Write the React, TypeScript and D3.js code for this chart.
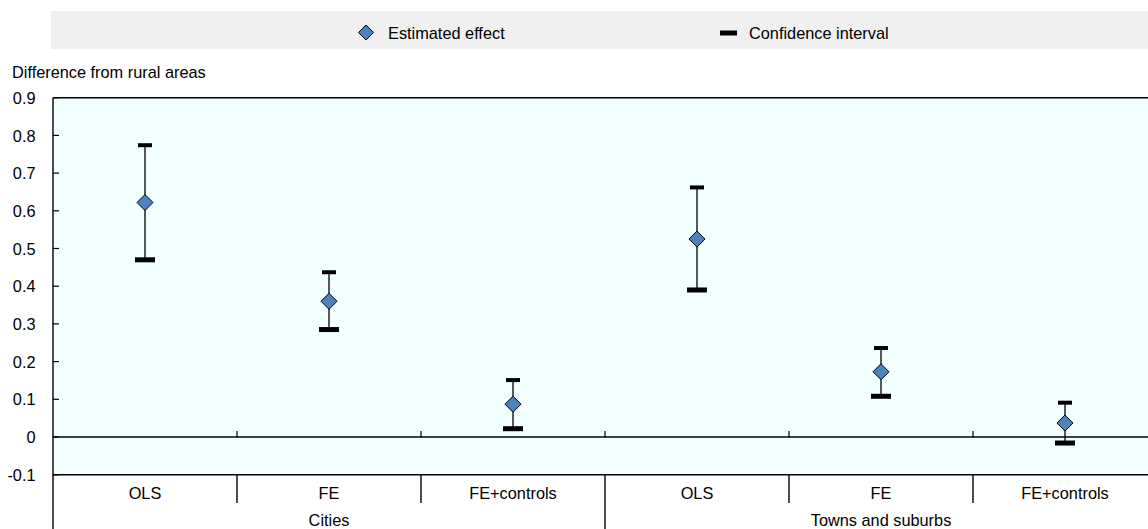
import { scaleBand, scaleLinear } from "d3";

// Chart data
const groups = ["Cities", "Towns and suburbs"];
const categories = ["OLS", "FE", "FE+controls", "OLS", "FE", "FE+controls"];
const estimates = [0.622, 0.36, 0.087, 0.525, 0.173, 0.037];
const upperBounds = [0.774, 0.437, 0.151, 0.662, 0.236, 0.091];
const lowerBounds = [0.47, 0.285, 0.022, 0.39, 0.108, -0.016];
const yTicks = [-0.1, 0, 0.1, 0.2, 0.3, 0.4, 0.5, 0.6, 0.7, 0.8, 0.9];

const W = 1148;
const H = 529;
const FONT = "'Liberation Sans', Arial, sans-serif";
const BLUE = "#4F81BD";

// text is a bit taller and narrower than plain Arial in the original
const Label = ({ x, y, anchor = "start", dy, children }: any) => (
    <g transform={`translate(${x},${y}) scale(0.96,1)`}>
        <text x={0} y={0} dy={dy} textAnchor={anchor} fontSize={17} fill="#000">
            {children}
        </text>
    </g>
);

const App = () => {
    // Scales
    const x = scaleBand<number>()
        .domain(categories.map((_, i) => i))
        .range([53, 1157])
        .padding(0);
    const y = scaleLinear().domain([-0.1, 0.9]).range([474.7, 97.7]);

    const left = 53;
    const right = 1157;
    const step = x.step();
    const perGroup = categories.length / groups.length;
    const boundaries = categories.map((_, i) => x(i) as number).slice(1);

    const fmt = (v: number) => String(+v.toFixed(1));
    const diamond = (cx: number, cy: number, r: number) =>
        `M${cx},${cy - r}L${cx + r},${cy}L${cx},${cy + r}L${cx - r},${cy}Z`;

    return (
        <div style={{ position: "absolute", left: 0, top: 0 }}>
            <svg width={W} height={H} style={{ display: "block", fontFamily: FONT }}>
                {/* Legend */}
                <rect x={51} y={11} width={W - 51} height={38} fill="#F0F0F0" />
                <path d={diamond(366, 32.5, 7.5)} fill={BLUE} stroke="#000" strokeWidth={1} />
                <Label x={388} y={38.8}>Estimated effect</Label>
                <rect x={720} y={30.5} width={17} height={5} fill="#000" />
                <Label x={749} y={38.8}>Confidence interval</Label>

                {/* Axis title */}
                <Label x={12} y={77.5}>Difference from rural areas</Label>

                {/* Plot background */}
                <rect x={left} y={y(0.9)} width={right - left} height={y(-0.1) - y(0.9)} fill="#F2FFFF" />
                {yTicks.map((t) => (
                    <line key={"g" + t} x1={left} x2={right} y1={y(t)} y2={y(t)} stroke="#fff" strokeWidth={1} />
                ))}
                {boundaries.map((b) => (
                    <line key={"v" + b} x1={b} x2={b} y1={y(0.9)} y2={y(-0.1)} stroke="#fff" strokeWidth={1} />
                ))}

                {/* Zero line and category ticks */}
                <line x1={left} x2={right} y1={y(0)} y2={y(0)} stroke="#000" strokeWidth={1.4} />
                {boundaries.map((b) => (
                    <line key={"t" + b} x1={b} x2={b} y1={y(0) - 6} y2={y(0)} stroke="#000" strokeWidth={1.2} />
                ))}

                {/* Borders */}
                <line x1={left} x2={right} y1={y(0.9)} y2={y(0.9)} stroke="#000" strokeWidth={1.4} />
                <line x1={left} x2={right} y1={y(-0.1)} y2={y(-0.1)} stroke="#000" strokeWidth={1.4} />
                <line x1={left} x2={left} y1={y(0.9)} y2={H} stroke="#000" strokeWidth={1.4} />

                {/* Y axis ticks and labels */}
                {yTicks.map((t) => (
                    <g key={"y" + t}>
                        <line x1={left} x2={left + 6} y1={y(t)} y2={y(t)} stroke="#000" strokeWidth={1.2} />
                        <Label x={35.5} y={y(t)} dy="0.36em" anchor="end">{fmt(t)}</Label>
                    </g>
                ))}

                {/* Category axis */}
                {boundaries.map((b, i) => {
                    const groupEdge = (i + 1) % perGroup === 0;
                    return (
                        <line key={"s" + b} x1={b} x2={b} y1={y(-0.1)} y2={groupEdge ? H : 503}
                            stroke="#000" strokeWidth={1.4} />
                    );
                })}
                {categories.map((c, i) => (
                    <Label key={"c" + i} x={(x(i) as number) + step / 2} y={499} anchor="middle">{c}</Label>
                ))}
                {groups.map((g, gi) => (
                    <Label key={g} x={left + step * perGroup * (gi + 0.5)} y={525.5} anchor="middle">{g}</Label>
                ))}

                {/* Error bars and estimates */}
                {estimates.map((v, i) => {
                    const cx = (x(i) as number) + step / 2;
                    return (
                        <g key={"p" + i}>
                            <line x1={cx} x2={cx} y1={y(upperBounds[i])} y2={y(lowerBounds[i])} stroke="#000" strokeWidth={1.3} />
                            <rect x={cx - 7} y={y(upperBounds[i]) - 2} width={14} height={4} fill="#000" />
                            <rect x={cx - 10} y={y(lowerBounds[i]) - 2.5} width={20} height={5} fill="#000" />
                            <path d={diamond(cx, y(v), 8)} fill={BLUE} stroke="#000" strokeWidth={1} />
                        </g>
                    );
                })}
            </svg>
        </div>
    );
};

export default App;
